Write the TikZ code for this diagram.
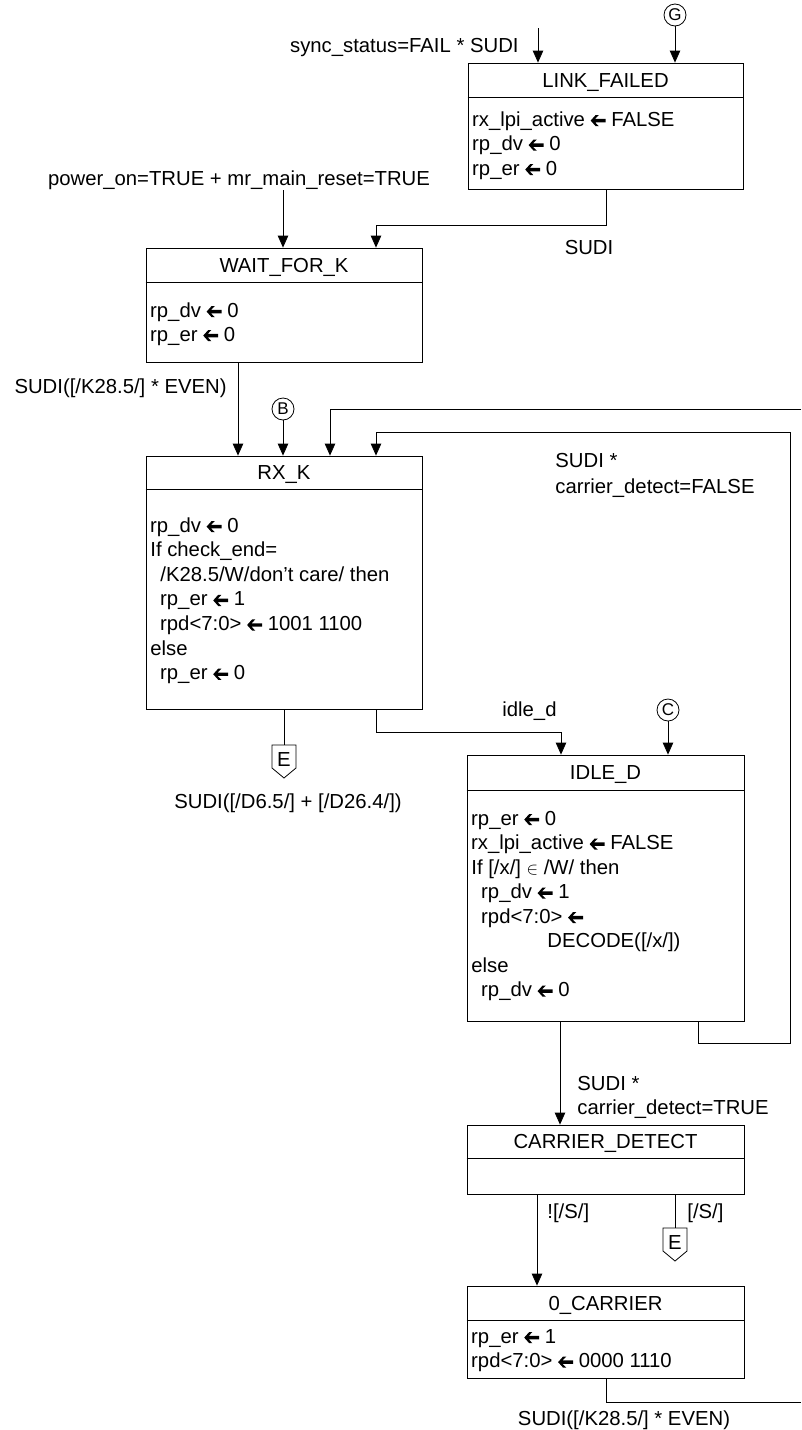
\documentclass[tikz,border=0pt]{standalone}
\usepackage{fontspec}
\setmainfont{Liberation Sans}
\usetikzlibrary{arrows.meta,calc}
% thick assignment arrow used in the state bodies
\newcommand{\lassign}{\tikz[x=1pt,y=1pt,baseline=-5.4pt]\fill (0,0) -- (5,5.6) -- (8.2,5.6) -- (4.4,1.7) -- (15,1.7) -- (15,-1.7) -- (4.4,-1.7) -- (8.2,-5.6) -- (5,-5.6) -- cycle;}
% off-page connector E, #1 name of its top point
\newcommand{\offpage}[3]{%
  \draw (#2-12,#3) -- (#2+12,#3) -- (#2+12,#3+23) -- (#2,#3+33) -- (#2-12,#3+23) -- cycle;
  \coordinate (#1) at (#2,#3);
  \node[inner sep=0pt,text height=14.6pt,text depth=0pt] (#1-lbl) at (#2,#3+14) {E};}

\begin{document}
\begin{tikzpicture}[x=1pt,y=-1pt,font=\fontsize{20.3}{24}\selectfont,line width=0.8pt,>={Triangle[length=12pt,width=10.5pt]}]
\tikzset{statebox/.style={draw,inner sep=0pt,minimum width=277},
  title/.style={inner sep=0pt,text height=14.6pt,text depth=0pt},
  txt/.style={anchor=base west,inner sep=0pt},
  lbl/.style={anchor=base west,inner sep=0pt},
  circ/.style={draw,circle,inner sep=0pt,minimum size=22,font=\fontsize{17}{17}\selectfont}}
\useasboundingbox (0,0) rectangle (801,1430);

% states
\node[statebox,minimum width=275,minimum height=126] (lf) at (605.5,126) {};
\node[statebox,minimum width=276,minimum height=114] (wk) at (284,305) {};
\node[statebox,minimum width=276,minimum height=253] (rk) at (284,582.5) {};
\node[statebox,minimum height=266] (id) at (605.5,888) {};
\node[statebox,minimum height=69] (cd) at (605.5,1159.5) {};
\node[statebox,minimum height=92] (oc) at (605.5,1332) {};
\foreach \b/\h in {lf/35,wk/35,rk/34,id/36,cd/34,oc/35}
  \draw ($(\b.north west)+(0,\h)$) -- ($(\b.north east)+(0,\h)$);
\node[title] (lf-t) at ($(lf.north)+(0,17.5)$) {LINK\_FAILED};
\node[title] (wk-t) at ($(wk.north)+(0,17.5)$) {WAIT\_FOR\_K};
\node[title] (rk-t) at ($(rk.north)+(0,17)$) {RX\_K};
\node[title] (id-t) at ($(id.north)+(0,18)$) {IDLE\_D};
\node[title] (cd-t) at ($(cd.north)+(0,17)$) {CARRIER\_DETECT};
\node[title] (oc-t) at ($(oc.north)+(0,17.5)$) {0\_CARRIER};

% state bodies
\foreach \t [count=\i from 0] in {{rx\_lpi\_active \lassign{} FALSE},{rp\_dv \lassign{} 0},{rp\_er \lassign{} 0}}
  \node[txt] (lf-\i) at (472,126+24.5*\i) {\t};
\foreach \t [count=\i from 0] in {{rp\_dv \lassign{} 0},{rp\_er \lassign{} 0}}
  \node[txt] (wk-\i) at (150,317+24*\i) {\t};
\foreach \t [count=\i from 0] in {{rp\_dv \lassign{} 0},{If check\_end=},{\hspace*{10pt}/K28.5/W/don’t care/ then},
  {\hspace*{10pt}rp\_er \lassign{} 1},{\hspace*{10pt}rpd<7:0> \lassign{} 1001 1100},{else},{\hspace*{10pt}rp\_er \lassign{} 0}}
  \node[txt] (rk-\i) at (150,532+24.6*\i) {\t};
\foreach \t [count=\i from 0] in {{rp\_er \lassign{} 0},{rx\_lpi\_active \lassign{} FALSE},
  {If [/x/] {\fontsize{16}{16}\selectfont$\in$} /W/ then},{\hspace*{10pt}rp\_dv \lassign{} 1},{\hspace*{10pt}rpd<7:0> \lassign{}},
  {\hspace*{76pt}DECODE([/x/])},{else},{\hspace*{10pt}rp\_dv \lassign{} 0}}
  \node[txt] (id-\i) at (471,825+24.5*\i) {\t};
\foreach \t [count=\i from 0] in {{rp\_er \lassign{} 1},{rpd<7:0> \lassign{} 0000 1110}}
  \node[txt] (oc-\i) at (471,1343+24.5*\i) {\t};

% entry points and labels
\node[circ] (g) at (675,15) {G};
\node[circ] (b) at (283,409) {B};
\node[circ] (c) at (668,710) {C};
\node[anchor=base east,inner sep=0pt] (sync) at (519,52) {sync\_status=FAIL * SUDI};
\node[anchor=base,inner sep=0pt] (pwr) at (239,185) {power\_on=TRUE + mr\_main\_reset=TRUE};
\node[anchor=base,inner sep=0pt] (sudi1) at (589,254) {SUDI};
\node[anchor=base east,inner sep=0pt] (even1) at (227,393) {SUDI([/K28.5/] * EVEN)};
\node[lbl] (cdf1) at (555,467) {SUDI *};
\node[lbl] (cdf2) at (555,493) {carrier\_detect=FALSE};
\node[lbl] (idle) at (502,716) {idle\_d};
\node[anchor=base,inner sep=0pt] (dsym) at (288,808) {SUDI([/D6.5/] + [/D26.4/])};
\node[lbl] (cdt1) at (577,1090) {SUDI *};
\node[lbl] (cdt2) at (577,1114) {carrier\_detect=TRUE};
\node[lbl] (nots) at (547,1218) {![/S/]};
\node[lbl] (iss) at (687,1218) {[/S/]};
\node[anchor=base,inner sep=0pt] (even2) at (624,1425) {SUDI([/K28.5/] * EVEN)};

\offpage{e1}{284}{745}
\offpage{e2}{675}{1228}
\coordinate (syncin) at (538,28);
\coordinate (pwrin) at (283,190);
\coordinate (ret0) at (801,409);
\coordinate (ret1) at (801,1402);

% transitions
\draw[->] (g) -- (g |- lf.north);
\draw[->] (syncin) -- (syncin |- lf.north);
\draw[->] (pwrin) -- (pwrin |- wk.north);
\draw[->] ([xshift=0.5]lf.south) -- ++(0,36) -| ([xshift=92]wk.north);
\draw[->] ([xshift=-46]wk.south) -- ([xshift=-46]rk.north);
\draw[->] (b) -- (b |- rk.north);
\draw[->] (ret0) -| ([xshift=46]rk.north);
\draw[->] ([xshift=92.5]id.south) -- ++(0,22) -| (790,432) -| ([xshift=92]rk.north);
\draw (rk.south -| e1) -- (e1);
\draw[->] ([xshift=92]rk.south) -- ++(0,23) -| ([xshift=-44.5]id.north);
\draw[->] (c) -- (c |- id.north);
\draw[->] ([xshift=-45.5]id.south) -- ([xshift=-45.5]cd.north);
\draw[->] ([xshift=-68.5]cd.south) -- ([xshift=-68.5]oc.north);
\draw (cd.south -| e2) -- (e2);
\draw ([xshift=0.5]oc.south) |- (ret1);
\end{tikzpicture}
\end{document}
